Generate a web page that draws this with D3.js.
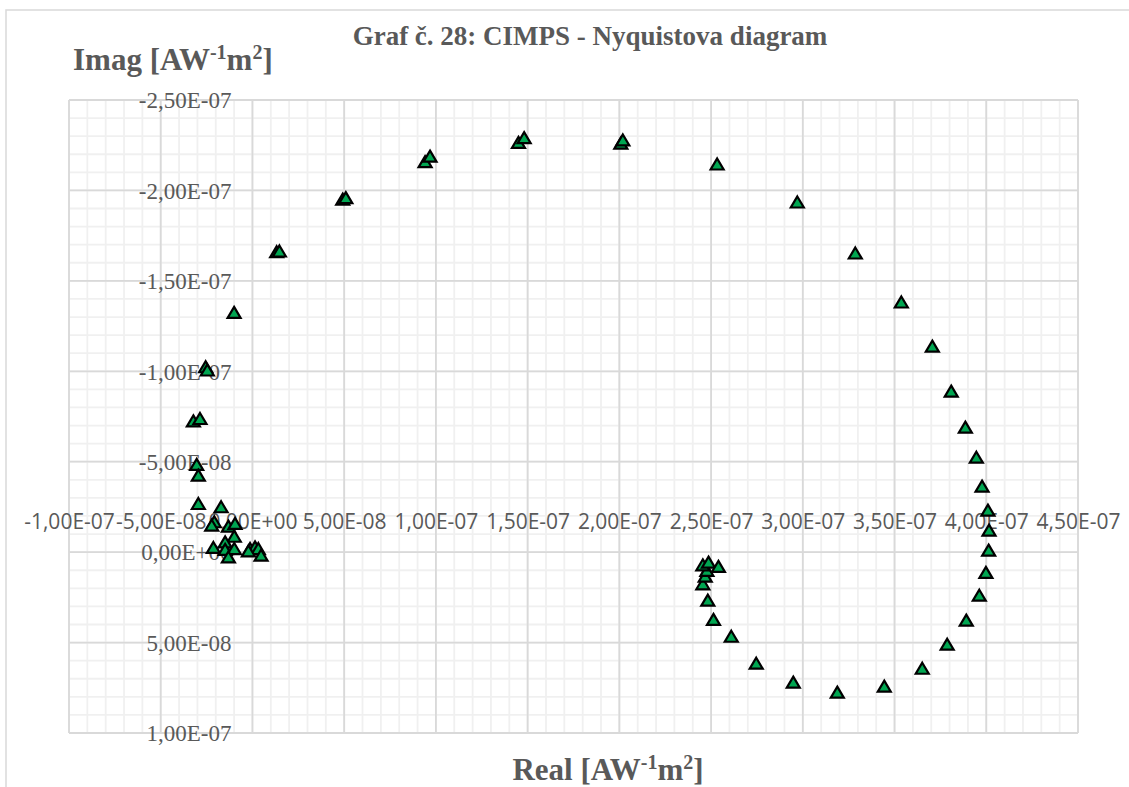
<!DOCTYPE html>
<html>
<head>
<meta charset="utf-8">
<script src="https://cdn.jsdelivr.net/npm/d3@7/dist/d3.min.js"></script>
<style>
  html, body { margin: 0; padding: 0; background: #ffffff; }
  svg { display: block; }
</style>
</head>
<body>
<svg id="chart" width="1129" height="787"></svg>
<script>
// CIMPS Nyquist data: real and imaginary parts of the transfer function [A W^-1 m^2]
const realValues = [
  13.2e-9, 14.7e-9, 49.2e-9, 50.9e-9, 94.1e-9, 96.8e-9, 145.0e-9, 148.1e-9,
  200.8e-9, 201.9e-9, 253.3e-9, 297.0e-9, 328.6e-9, 353.7e-9, 370.6e-9, 380.9e-9,
  388.6e-9, 394.6e-9, 397.7e-9, 400.9e-9, 401.5e-9, 401.3e-9, 399.8e-9, 396.2e-9,
  389.1e-9, 378.7e-9, 365.1e-9, 344.4e-9, 318.8e-9, 294.8e-9, 274.6e-9, 261.0e-9,
  251.3e-9, 248.2e-9, 245.5e-9, 246.8e-9, 247.7e-9, 245.5e-9, 248.6e-9, 254.0e-9,
  -10.0e-9, -25.5e-9, -24.6e-9, -32.2e-9, -28.6e-9, -30.4e-9, -29.5e-9, -29.5e-9,
  -17.1e-9, -20.8e-9, -22.2e-9, -13.1e-9, -9.5e-9, -9.9e-9, -14.9e-9, -21.3e-9,
  -14.9e-9, -9.9e-9, -13.1e-9, -1.3e-9, 1.4e-9, 3.2e-9, 4.7e-9, -2.2e-9
];
const imagValues = [
  -166.1e-9, -166.5e-9, -195.2e-9, -196.0e-9, -215.9e-9, -219.0e-9, -226.6e-9, -229.2e-9,
  -226.1e-9, -227.9e-9, -214.6e-9, -193.6e-9, -165.4e-9, -138.3e-9, -113.9e-9, -89.0e-9,
  -69.1e-9, -52.5e-9, -36.5e-9, -23.2e-9, -12.2e-9, -1.1e-9, 11.2e-9, 23.8e-9,
  37.6e-9, 50.9e-9, 64.2e-9, 74.1e-9, 77.4e-9, 71.9e-9, 61.4e-9, 46.5e-9,
  37.2e-9, 26.5e-9, 17.5e-9, 13.3e-9, 10.1e-9, 7.0e-9, 5.5e-9, 7.9e-9,
  -132.6e-9, -102.5e-9, -100.7e-9, -72.6e-9, -73.9e-9, -48.5e-9, -42.6e-9, -26.9e-9,
  -25.1e-9, -16.8e-9, -14.9e-9, -14.4e-9, -15.9e-9, -8.8e-9, -5.7e-9, -2.6e-9,
  -1.5e-9, -2.0e-9, 2.6e-9, -2.0e-9, -2.9e-9, -2.0e-9, 1.7e-9, -0.7e-9
];

// Axis ticks and their labels (decimal comma, Excel scientific format)
const xTickValues = [-1e-7, -5e-8, 0, 5e-8, 1e-7, 1.5e-7, 2e-7, 2.5e-7, 3e-7, 3.5e-7, 4e-7, 4.5e-7];
const xTickLabels = ["-1,00E-07", "-5,00E-08", "0,00E+00", "5,00E-08", "1,00E-07", "1,50E-07",
                     "2,00E-07", "2,50E-07", "3,00E-07", "3,50E-07", "4,00E-07", "4,50E-07"];
const yTickValues = [-2.5e-7, -2e-7, -1.5e-7, -1e-7, -5e-8, 0, 5e-8, 1e-7];
const yTickLabels = ["-2,50E-07", "-2,00E-07", "-1,50E-07", "-1,00E-07", "-5,00E-08",
                     "0,00E+00", "5,00E-08", "1,00E-07"];
const minorStep = 1e-8;

const points = realValues.map((re, i) => ({ re, im: imagValues[i] }));

const svg = d3.select("#chart");
const textColor = "#595959";
const serif = "'Liberation Serif', 'Times New Roman', serif";
const sans = "'Open Sans', 'Liberation Sans', sans-serif";

// Chart area frame
svg.append("rect")
  .attr("x", 6).attr("y", 10)
  .attr("width", 1300).attr("height", 900)
  .attr("fill", "#ffffff")
  .attr("stroke", "#d9d9d9").attr("stroke-width", 1.5);

// Scales: imaginary axis is reversed (negative values on top)
const x = d3.scaleLinear().domain([-1e-7, 4.5e-7]).range([69, 1078]);
const y = d3.scaleLinear().domain([-2.5e-7, 1e-7]).range([100, 733]);

const [x0, x1] = x.domain();
const [y0, y1] = y.domain();
const xMinor = d3.range(Math.round(x0 / minorStep), Math.round(x1 / minorStep) + 1).map(i => i * minorStep);
const yMinor = d3.range(Math.round(y0 / minorStep), Math.round(y1 / minorStep) + 1).map(i => i * minorStep);

const grid = svg.append("g").attr("class", "grid");

// Minor gridlines
grid.append("g").selectAll("line").data(xMinor).join("line")
  .attr("x1", d => x(d)).attr("x2", d => x(d))
  .attr("y1", y(y0)).attr("y2", y(y1))
  .attr("stroke", "#f0f0f0").attr("stroke-width", 1.8);
grid.append("g").selectAll("line").data(yMinor).join("line")
  .attr("y1", d => y(d)).attr("y2", d => y(d))
  .attr("x1", x(x0)).attr("x2", x(x1))
  .attr("stroke", "#f0f0f0").attr("stroke-width", 1.8);

// Major gridlines
grid.append("g").selectAll("line").data(xTickValues).join("line")
  .attr("x1", d => x(d)).attr("x2", d => x(d))
  .attr("y1", y(y0)).attr("y2", y(y1))
  .attr("stroke", "#d9d9d9").attr("stroke-width", 1.8);
grid.append("g").selectAll("line").data(yTickValues).join("line")
  .attr("y1", d => y(d)).attr("y2", d => y(d))
  .attr("x1", x(x0)).attr("x2", x(x1))
  .attr("stroke", "#d9d9d9").attr("stroke-width", 1.8);

// Horizontal (real) axis crossing at Imag = 0, labels above the zero line
const xAxis = d3.axisTop(x)
  .tickValues(xTickValues)
  .tickFormat((d, i) => xTickLabels[i])
  .tickSize(0)
  .tickPadding(23);
const gx = svg.append("g")
  .attr("transform", `translate(0,${y(0)})`)
  .call(xAxis);
gx.select(".domain").remove();
gx.selectAll("text")
  .attr("fill", textColor)
  .style("font-family", sans)
  .style("font-size", "21px");

// Vertical (imag) axis crossing at Real = 0
const yAxis = d3.axisLeft(y)
  .tickValues(yTickValues)
  .tickFormat((d, i) => yTickLabels[i])
  .tickSize(0)
  .tickPadding(21);
const gy = svg.append("g")
  .attr("transform", `translate(${x(0)},0)`)
  .call(yAxis);
gy.select(".domain").remove();
gy.selectAll("text")
  .attr("fill", textColor)
  .attr("dy", "0.34em")
  .style("font-family", serif)
  .style("font-size", "23px");

// Triangle markers, bounding box centred on the data point
const triW = 13, triH = 11;
const triangle = `M0,${-triH / 2}L${triW / 2},${triH / 2}L${-triW / 2},${triH / 2}Z`;
svg.append("g").attr("class", "points")
  .selectAll("path").data(points).join("path")
  .attr("d", triangle)
  .attr("transform", d => `translate(${x(d.re)},${y(d.im)})`)
  .attr("fill", "#00a651")
  .attr("stroke", "#000000")
  .attr("stroke-width", 2.2)
  .attr("stroke-linejoin", "miter");

// Title
svg.append("text")
  .attr("x", 590).attr("y", 45)
  .attr("text-anchor", "middle")
  .attr("fill", textColor)
  .style("font-family", serif)
  .style("font-weight", "bold")
  .style("font-size", "27px")
  .text("Graf č. 28: CIMPS - Nyquistova diagram");

// Axis titles with superscripted unit exponents
function unitTitle(sel, name) {
  sel.append("tspan").text(name + " [AW");
  sel.append("tspan").attr("dy", -11).style("font-size", "20px").text("-1");
  sel.append("tspan").attr("dy", 11).text("m");
  sel.append("tspan").attr("dy", -11).style("font-size", "20px").text("2");
  sel.append("tspan").attr("dy", 11).text("]");
}

svg.append("text")
  .attr("x", 73).attr("y", 70)
  .attr("fill", textColor)
  .style("font-family", serif)
  .style("font-weight", "bold")
  .style("font-size", "31px")
  .call(unitTitle, "Imag");

svg.append("text")
  .attr("x", 608).attr("y", 780)
  .attr("text-anchor", "middle")
  .attr("fill", textColor)
  .style("font-family", serif)
  .style("font-weight", "bold")
  .style("font-size", "31px")
  .call(unitTitle, "Real");
</script>
</body>
</html>
